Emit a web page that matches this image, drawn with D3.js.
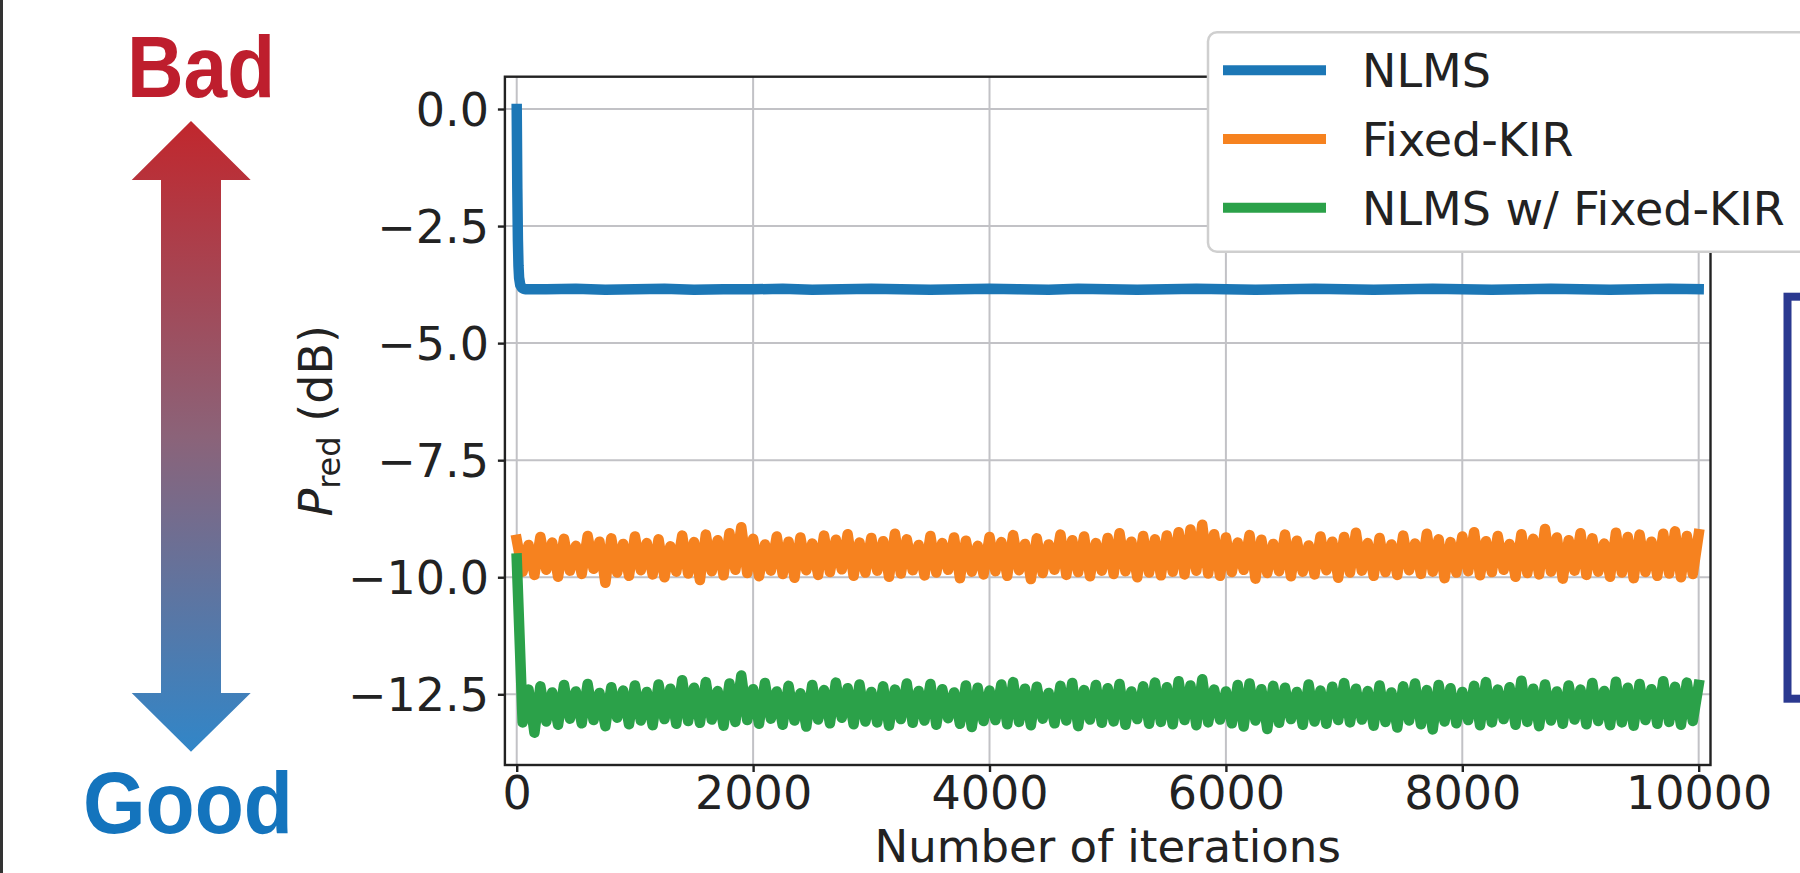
<!DOCTYPE html>
<html>
<head>
<meta charset="utf-8">
<script src="https://cdn.jsdelivr.net/npm/d3@7"></script>
<style>
  body { margin: 0; background: #fff; }
  svg { display: block; }
  text { white-space: pre; }
</style>
</head>
<body>
<div id="chart"></div>
<script>
// P_red over NLMS iterations, three methods, with a Bad/Good arrow on the left

var seriesNames = ['NLMS', 'Fixed-KIR', 'NLMS w/ Fixed-KIR'];
var seriesColors = ['#1c77b6', '#f6821f', '#2ba149'];
var xTicks = [0, 2000, 4000, 6000, 8000, 10000];
var yTicks = [0, -2.5, -5, -7.5, -10, -12.5];

// NLMS: fast drop at the start, then flat
var nlmsHeadIters = [0, 5, 10, 15, 20, 30, 45, 60, 80, 120];
var nlmsHead = [0.0, -1.7, -2.8, -3.35, -3.6, -3.76, -3.82, -3.84, -3.85, -3.85];
var nlmsTailIters = d3.range(250, 10001, 250);
var nlmsTail = [
  -3.85, -3.84, -3.86, -3.85, -3.84, -3.86, -3.85, -3.85, -3.84, -3.86,
  -3.85, -3.84, -3.85, -3.86, -3.85, -3.84, -3.85, -3.86, -3.84, -3.85,
  -3.86, -3.85, -3.84, -3.85, -3.86, -3.85, -3.84, -3.85, -3.86, -3.85,
  -3.84, -3.85, -3.86, -3.85, -3.84, -3.85, -3.86, -3.85, -3.84, -3.85
];

// noisy series, read every 50 iterations
var iterations = d3.range(0, 10001, 50);
var fixedKir = [
  -9.20, -9.88, -9.31, -9.95, -9.14, -9.84, -9.26, -9.99, -9.18, -9.86,
  -9.33, -9.93, -9.12, -9.82, -9.24, -10.12, -9.17, -9.90, -9.29, -9.97,
  -9.13, -9.85, -9.27, -9.94, -9.19, -10.00, -9.34, -9.88, -9.11, -9.92,
  -9.25, -10.06, -9.09, -9.87, -9.21, -9.96, -9.06, -9.84, -8.93, -9.91,
  -9.18, -9.98, -9.30, -9.86, -9.13, -9.93, -9.24, -10.01, -9.15, -9.85,
  -9.28, -9.95, -9.11, -9.89, -9.20, -9.83, -9.08, -9.97, -9.26, -9.90,
  -9.16, -9.86, -9.23, -9.99, -9.07, -9.92, -9.19, -9.85, -9.31, -9.96,
  -9.12, -9.90, -9.27, -9.84, -9.15, -10.02, -9.22, -9.88, -9.33, -9.94,
  -9.14, -9.87, -9.25, -9.97, -9.10, -9.85, -9.29, -10.04, -9.17, -9.91,
  -9.30, -9.84, -9.09, -9.95, -9.21, -9.89, -9.13, -9.98, -9.27, -9.86,
  -9.16, -9.93, -9.06, -9.87, -9.24, -10.00, -9.12, -9.90, -9.19, -9.96,
  -9.11, -9.88, -9.04, -9.94, -8.98, -9.86, -8.88, -9.92, -9.08, -9.97,
  -9.15, -9.89, -9.26, -9.84, -9.10, -10.03, -9.20, -9.91, -9.29, -9.87,
  -9.09, -9.98, -9.22, -9.88, -9.32, -9.94, -9.13, -9.85, -9.24, -10.01,
  -9.14, -9.90, -9.05, -9.86, -9.27, -9.97, -9.16, -9.89, -9.30, -9.95,
  -9.11, -9.85, -9.28, -9.93, -9.07, -9.88, -9.19, -10.02, -9.25, -9.90,
  -9.13, -9.87, -9.04, -9.96, -9.23, -9.89, -9.12, -9.84, -9.29, -9.99,
  -9.08, -9.91, -9.18, -9.94, -8.97, -9.88, -9.15, -10.03, -9.21, -9.86,
  -9.06, -9.95, -9.17, -9.88, -9.28, -9.99, -9.05, -9.90, -9.14, -10.02,
  -9.09, -9.89, -9.24, -9.97, -9.07, -9.92, -9.02, -10.00, -9.12, -9.93,
  -9.08
];
var nlmsFixedKir = [
  -9.60, -13.10, -12.40, -13.32, -12.33, -13.08, -12.46, -13.15, -12.30, -13.02,
  -12.44, -13.12, -12.28, -13.05, -12.47, -13.18, -12.35, -13.00, -12.42, -13.14,
  -12.31, -13.06, -12.45, -13.16, -12.29, -13.03, -12.38, -13.13, -12.20, -13.07,
  -12.36, -13.11, -12.24, -13.04, -12.43, -13.17, -12.27, -13.09, -12.10, -13.05,
  -12.39, -13.13, -12.26, -13.02, -12.44, -13.15, -12.32, -13.06, -12.48, -13.19,
  -12.30, -13.04, -12.41, -13.12, -12.25, -13.00, -12.37, -13.14, -12.29, -13.08,
  -12.45, -13.10, -12.33, -13.17, -12.40, -13.03, -12.27, -13.11, -12.43, -13.06,
  -12.28, -13.15, -12.39, -13.01, -12.46, -13.13, -12.31, -13.20, -12.36, -13.07,
  -12.42, -13.05, -12.29, -13.14, -12.24, -13.09, -12.38, -13.16, -12.34, -13.02,
  -12.47, -13.12, -12.32, -13.06, -12.26, -13.18, -12.41, -13.04, -12.30, -13.11,
  -12.37, -13.08, -12.28, -13.15, -12.44, -13.03, -12.33, -13.13, -12.25, -13.09,
  -12.35, -13.14, -12.22, -13.05, -12.31, -13.16, -12.18, -13.10, -12.40, -13.04,
  -12.44, -13.12, -12.30, -13.19, -12.27, -13.06, -12.39, -13.24, -12.32, -13.11,
  -12.36, -13.03, -12.45, -13.15, -12.29, -13.08, -12.42, -13.13, -12.34, -13.05,
  -12.26, -13.10, -12.38, -13.04, -12.43, -13.17, -12.31, -13.09, -12.46, -13.21,
  -12.33, -13.06, -12.27, -13.14, -12.41, -13.25, -12.30, -13.08, -12.37, -13.12,
  -12.45, -13.05, -12.32, -13.16, -12.24, -13.10, -12.40, -13.03, -12.35, -13.15,
  -12.21, -13.09, -12.38, -13.18, -12.29, -13.06, -12.44, -13.13, -12.31, -13.04,
  -12.40, -13.14, -12.26, -13.07, -12.43, -13.16, -12.23, -13.10, -12.36, -13.17,
  -12.28, -13.05, -12.39, -13.13, -12.22, -13.09, -12.34, -13.15, -12.25, -13.07,
  -12.30
];

var w = 1800;
var h = 873;
var margin = {top: 76.7, right: 89.5, bottom: 108, left: 504.9};
var font = '"DejaVu Sans", sans-serif';
var ink = '#222';

var svg = d3.select('#chart')
  .append('svg')
  .attr('width', w)
  .attr('height', h);

var x = d3.scaleLinear()
  .domain([-100, 10100])
  .range([margin.left, w - margin.right]);

var y = d3.scaleLinear()
  .domain([-14.01, 0.69])
  .range([h - margin.bottom, margin.top]);

// dark edge on the left of the figure
svg.append('rect')
  .attr('x', 0).attr('y', 0)
  .attr('width', 3).attr('height', h)
  .attr('fill', '#333');

// Bad / Good arrow
var grad = svg.append('defs').append('linearGradient')
  .attr('id', 'arrowGrad')
  .attr('gradientUnits', 'userSpaceOnUse')
  .attr('x1', 0).attr('y1', 121).attr('x2', 0).attr('y2', 752);
grad.append('stop').attr('offset', 0).attr('stop-color', '#c1272d');
grad.append('stop').attr('offset', 0.5).attr('stop-color', '#8b6379');
grad.append('stop').attr('offset', 1).attr('stop-color', '#3186c8');

svg.append('path')
  .attr('d', 'M191,121 L250.7,180 L221,180 L221,693 L250.7,693 L191,751.7 L131.7,693 L161,693 L161,180 L131.7,180 Z')
  .attr('fill', 'url(#arrowGrad)');

svg.append('text')
  .attr('x', 127).attr('y', 97)
  .attr('font-family', '"Liberation Sans", Arial, sans-serif')
  .attr('font-weight', 'bold')
  .attr('font-size', 88)
  .attr('textLength', 148)
  .attr('lengthAdjust', 'spacingAndGlyphs')
  .attr('fill', '#be1e2d')
  .text('Bad');

svg.append('text')
  .attr('x', 83).attr('y', 833)
  .attr('font-family', '"Liberation Sans", Arial, sans-serif')
  .attr('font-weight', 'bold')
  .attr('font-size', 88)
  .attr('textLength', 210)
  .attr('lengthAdjust', 'spacingAndGlyphs')
  .attr('fill', '#1474bd')
  .text('Good');

// blue box on the right edge
svg.append('rect')
  .attr('x', 1787.5).attr('y', 296.7)
  .attr('width', 60).attr('height', 402)
  .attr('fill', 'none')
  .attr('stroke', '#2b3990')
  .attr('stroke-width', 8);

// grid
svg.append('g')
  .selectAll('line')
  .data(xTicks)
  .enter()
  .append('line')
  .attr('x1', d => x(d)).attr('x2', d => x(d))
  .attr('y1', y.range()[1]).attr('y2', y.range()[0])
  .attr('stroke', '#c2c2c6')
  .attr('stroke-width', 2);

svg.append('g')
  .selectAll('line')
  .data(yTicks)
  .enter()
  .append('line')
  .attr('y1', d => y(d)).attr('y2', d => y(d))
  .attr('x1', x.range()[0]).attr('x2', x.range()[1])
  .attr('stroke', '#c2c2c6')
  .attr('stroke-width', 2);

// series
var line = d3.line()
  .x(d => x(d[0]))
  .y(d => y(d[1]));

var nlms = nlmsHeadIters.map((t, i) => [t, nlmsHead[i]])
  .concat(nlmsTailIters.map((t, i) => [t, nlmsTail[i]]));
var kir = iterations.map((t, i) => [t, fixedKir[i]]);
var combo = iterations.map((t, i) => [t, nlmsFixedKir[i]]);
var series = [nlms, kir, combo];

svg.append('g')
  .selectAll('path')
  .data(series)
  .enter()
  .append('path')
  .attr('d', line)
  .attr('fill', 'none')
  .attr('stroke', (d, i) => seriesColors[i])
  .attr('stroke-width', 10.5)
  .attr('stroke-linejoin', 'round')
  .attr('stroke-linecap', 'square');

// axes
var xAxis = g => g
  .attr('transform', 'translate(0,' + (h - margin.bottom) + ')')
  .call(d3.axisBottom(x).tickValues(xTicks).tickFormat(d3.format('d')).tickSize(7).tickPadding(4.5))
  .call(g => g.select('.domain').remove());

var yAxis = g => g
  .attr('transform', 'translate(' + margin.left + ',0)')
  .call(d3.axisLeft(y).tickValues(yTicks).tickFormat(d3.format('.1f')).tickSize(7).tickPadding(9))
  .call(g => g.select('.domain').remove())
  .call(g => g.selectAll('text').attr('dy', '0.36em'));

[xAxis, yAxis].forEach(function(ax) {
  svg.append('g')
    .call(ax)
    .call(g => g.attr('font-family', font).attr('font-size', 46))
    .call(g => g.selectAll('line').attr('stroke', ink).attr('stroke-width', 2.4))
    .call(g => g.selectAll('text').attr('fill', ink));
});

// spines
svg.append('rect')
  .attr('x', x.range()[0]).attr('y', y.range()[1])
  .attr('width', x.range()[1] - x.range()[0])
  .attr('height', y.range()[0] - y.range()[1])
  .attr('fill', 'none')
  .attr('stroke', ink)
  .attr('stroke-width', 2.4);

// axis titles
svg.append('text')
  .attr('x', (x.range()[0] + x.range()[1]) / 2)
  .attr('y', 862.2)
  .attr('text-anchor', 'middle')
  .attr('font-family', font)
  .attr('font-size', 45)
  .attr('fill', ink)
  .text('Number of iterations');

var yTitle = svg.append('text')
  .attr('transform', 'translate(331.5,' + ((y.range()[0] + y.range()[1]) / 2) + ') rotate(-90)')
  .attr('text-anchor', 'middle')
  .attr('font-family', font)
  .attr('font-size', 46)
  .attr('fill', ink);
yTitle.append('tspan').attr('font-style', 'italic').text('P');
yTitle.append('tspan').attr('font-size', 32).attr('dy', 8).text('red');
yTitle.append('tspan').attr('dy', -8).text(' (dB)');

// legend
var legend = svg.append('g');
legend.append('rect')
  .attr('x', 1208).attr('y', 32.3)
  .attr('width', 620).attr('height', 219.4)
  .attr('rx', 9)
  .attr('fill', '#fff')
  .attr('stroke', '#cfcfcf')
  .attr('stroke-width', 2.5);

var item = legend.selectAll('g.item')
  .data(seriesNames)
  .enter()
  .append('g')
  .attr('class', 'item')
  .attr('transform', (d, i) => 'translate(0,' + (70.3 + i * 68.7) + ')');

item.append('line')
  .attr('x1', 1223).attr('x2', 1326)
  .attr('stroke', (d, i) => seriesColors[i])
  .attr('stroke-width', 10);

item.append('text')
  .attr('x', 1362)
  .attr('y', 17)
  .attr('font-family', font)
  .attr('font-size', 46)
  .attr('fill', ink)
  .text(d => d);
</script>
</body>
</html>
